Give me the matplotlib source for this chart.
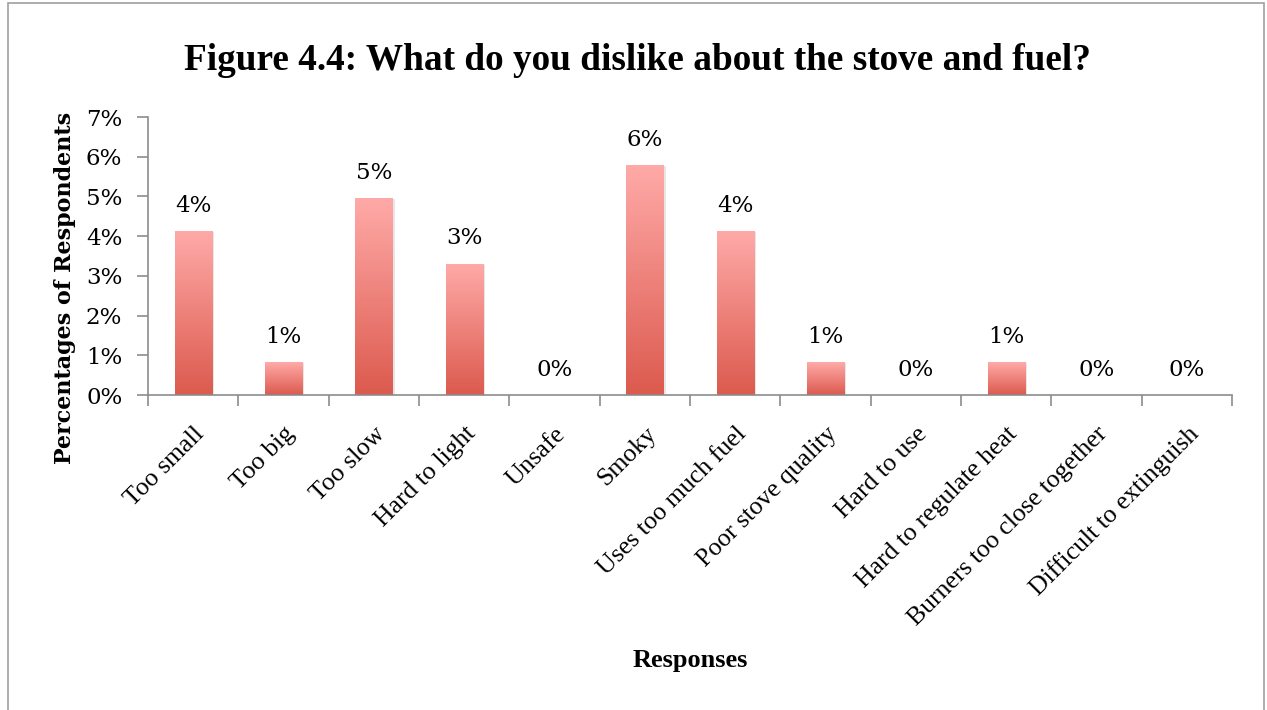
import matplotlib
matplotlib.use("Agg")
import matplotlib.pyplot as plt
import numpy as np
from matplotlib.patches import Rectangle
from matplotlib.colors import LinearSegmentedColormap

categories = ["Too small", "Too big", "Too slow", "Hard to light", "Unsafe", "Smoky",
              "Uses too much fuel", "Poor stove quality", "Hard to use",
              "Hard to regulate heat", "Burners too close together", "Difficult to extinguish"]
values = [4.13, 0.83, 4.96, 3.31, 0.0, 5.79, 4.13, 0.83, 0.0, 0.83, 0.0, 0.0]
labels = ["4%", "1%", "5%", "3%", "0%", "6%", "4%", "1%", "0%", "1%", "0%", "0%"]
yticks = [0, 1, 2, 3, 4, 5, 6, 7]
ytick_labels = ["0%", "1%", "2%", "3%", "4%", "5%", "6%", "7%"]

times = ["Liberation Serif", "DejaVu Serif"]
cambria = ["DejaVu Serif"]
plt.rcParams['font.family'] = times

fig = plt.figure(figsize=(12.67, 7.10), dpi=100)
fig.patches.append(Rectangle((8/1267, -0.05), 1256/1267, 1.05 - 3/710, transform=fig.transFigure,
                             fill=False, edgecolor="#a0a0a0", linewidth=1.2))
ax = fig.add_axes([148/1267, 1 - 395/710, (1232 - 148)/1267, (395 - 117)/710])

x = np.arange(len(categories))
width = 0.41
cmap = LinearSegmentedColormap.from_list("g", ["#dc5a4e", "#ffaaa8"])
grad = np.linspace(0, 1, 256).reshape(-1, 1)
bars = ax.bar(x, values, width=width, color="none", edgecolor="none", zorder=2)
for b in bars:
    h = b.get_height()
    if h <= 0:
        continue
    x0 = b.get_x()
    ax.add_patch(Rectangle((x0 + 0.025, 0), b.get_width(), h - 0.03, facecolor="#c8c8c8",
                           edgecolor="none", alpha=0.45, zorder=1.5))
    im = ax.imshow(grad, extent=[x0, x0 + b.get_width(), 0, h], origin="lower",
                   cmap=cmap, aspect="auto", zorder=2)
    im.set_clip_path(b)

for xi, v, lab in zip(x, values, labels):
    ax.text(xi, v + 0.48, lab, ha="center", va="baseline", fontsize=16.5, family=cambria)

ax.set_xlim(-0.5, len(categories) - 0.5)
ax.set_ylim(0, 7)
ax.set_yticks(yticks)
ax.set_yticklabels(ytick_labels, fontsize=16.5, family=cambria)
ax.set_xticks(x)
ax.set_xticklabels(categories, rotation=45, ha="right", rotation_mode="anchor", fontsize=18.5)
ax.set_xticks(np.arange(-0.5, len(categories)), minor=True)
ax.tick_params(axis="x", which="major", length=0, pad=20)
ax.tick_params(axis="x", which="minor", length=8, color="#8c8c8c", width=1.2)
ax.tick_params(axis="y", length=8, color="#8c8c8c", width=1.2, pad=10.5)
for s in ["top", "right"]:
    ax.spines[s].set_visible(False)
for s in ["left", "bottom"]:
    ax.spines[s].set_color("#8c8c8c")
    ax.spines[s].set_linewidth(1.2)

fig.text(637/1267, 1 - 60/710, "Figure 4.4: What do you dislike about the stove and fuel?",
         ha="center", va="center", fontsize=26.8, fontweight="bold")
fig.text(65/1267, 1 - 288/710, "Percentages of Respondents", rotation=90, ha="center",
         va="center", fontsize=16, fontweight="bold", family=cambria)
fig.text(690/1267, 1 - 660/710, "Responses", ha="center", va="center", fontsize=19,
         fontweight="bold")

fig.savefig("out.png", dpi=100)
